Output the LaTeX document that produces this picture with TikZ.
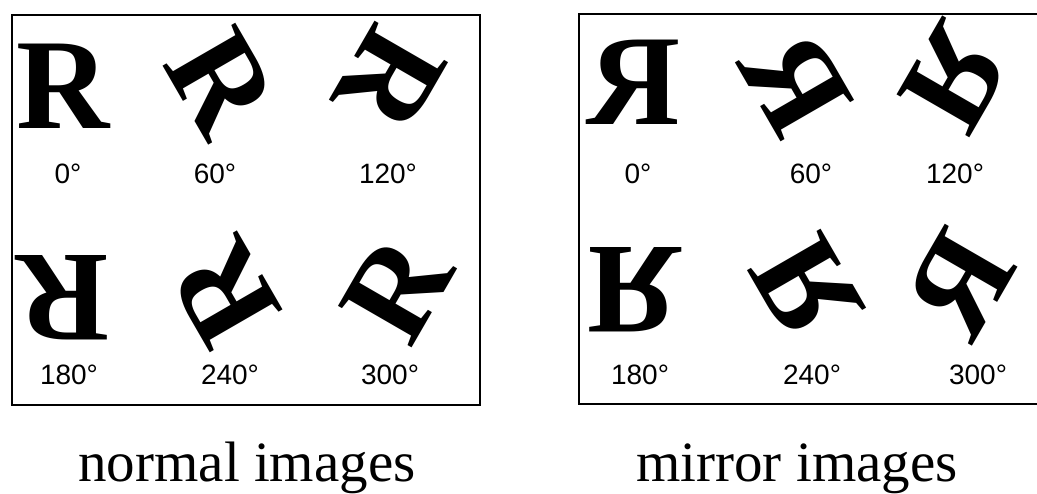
\documentclass[tikz,border=0pt]{standalone}
\usepackage{fontspec}
\setmainfont{Liberation Serif}
\newfontfamily\degfont{Liberation Sans}
\usepackage{tikz}
\usetikzlibrary{positioning}

\tikzset{
  glyph/.style={inner sep=0pt, font=\fontsize{129}{129}\selectfont\bfseries},
  deg/.style={inner sep=0pt, font=\degfont\fontsize{28}{28}\selectfont},
  caption/.style={inner sep=0pt, anchor=base, font=\fontsize{57}{57}\selectfont},
  frame/.style={line width=2pt}
}

\begin{document}
\begin{tikzpicture}[x=1pt, y=1pt]
    \useasboundingbox (0,0) rectangle (1037,494);
    \draw[frame] (12,89) rectangle (480,479);
    \draw[frame] (1037,90) -- (579,90) -- (579,480) -- (1037,480);

    % normal R, turned clockwise
    \foreach \a/\x/\y/\lx/\ly in {0/63/408/68/320, 60/221/411/215/320, 120/390/414/388/320,
                                 180/63/196/69/119, 240/225/201/230/119, 300/397/205/390/119} {
        \node[glyph, rotate=-\a] (n\a) at (\x,\y) {R};
        \node[deg] (nl\a) at (\lx,\ly) {\a°};
    }

    % mirrored R, turned clockwise
    \foreach \a/\x/\y/\lx/\ly in {0/634/412/638/320, 60/796/411/811/320, 120/955/416/955/320,
                                 180/634/204/640/119, 240/806/206/812/119, 300/960/210/978/119} {
        \node[glyph, rotate=-\a] (m\a) at (\x,\y) {\reflectbox{R}};
        \node[deg] (ml\a) at (\lx,\ly) {\a°};
    }

    \node[caption] (normcap) at (247,12) {normal images};
    \node[caption] (mirrcap) at (797,12) {mirror images};
\end{tikzpicture}
\end{document}
